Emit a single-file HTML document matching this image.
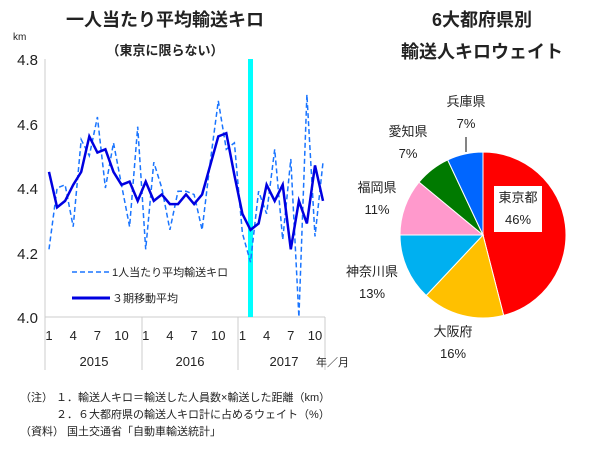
<!DOCTYPE html><html><head><meta charset="utf-8"><style>
body{margin:0;background:#fff;width:615px;height:453px;overflow:hidden}
svg text{font-family:"Liberation Sans","Noto Sans CJK JP",sans-serif;fill:#222}
</style></head><body>
<svg id="s" width="615" height="453" xmlns="http://www.w3.org/2000/svg">
<text x="165" y="26" font-size="18" font-weight="bold" text-anchor="middle">一人当たり平均輸送キロ</text>
<text x="165" y="55" font-size="13" font-weight="bold" text-anchor="middle">（東京に限らない）</text>
<text x="482" y="26" font-size="18" font-weight="bold" text-anchor="middle">6大都府県別</text>
<text x="482" y="58" font-size="18" font-weight="bold" text-anchor="middle">輸送人キロウェイト</text>
<text x="13" y="40" font-size="10">km</text>
<g font-size="15" text-anchor="end">
<text x="38" y="65">4.8</text><text x="38" y="130">4.6</text><text x="38" y="194">4.4</text><text x="38" y="259">4.2</text><text x="38" y="323">4.0</text>
</g>
<line x1="45" y1="59" x2="45" y2="370" stroke="#ccc"/>
<line x1="45" y1="317" x2="325" y2="317" stroke="#ccc"/>
<line x1="142" y1="317" x2="142" y2="370" stroke="#ccc"/>
<line x1="238" y1="317" x2="238" y2="370" stroke="#ccc"/>
<line x1="325" y1="317" x2="325" y2="370" stroke="#ccc"/>
<rect x="248" y="59" width="5" height="258" fill="#00ffff"/>
<g font-size="13" text-anchor="middle" id="xl"></g>
<g font-size="13" text-anchor="middle">
<text x="94" y="366">2015</text><text x="190" y="366">2016</text><text x="284" y="366">2017</text>
</g>
<text x="316" y="366" font-size="11">年／月</text>
<line x1="72" y1="272" x2="110" y2="272" stroke="#1a75ff" stroke-width="1.5" stroke-dasharray="5,3"/>
<text x="112" y="276" font-size="11">1人当たり平均輸送キロ</text>
<line x1="72" y1="298" x2="110" y2="298" stroke="#0000e0" stroke-width="3"/>
<text x="112" y="302" font-size="11">３期移動平均</text>
<polyline id="d" fill="none" stroke="#1a75ff" stroke-width="1.5" stroke-dasharray="5,3"/>
<polyline id="m" fill="none" stroke="#0000e0" stroke-width="2.5"/>
<g id="pie"></g>
<line x1="466" y1="137" x2="466" y2="152" stroke="#333" stroke-width="1.2"/>
<rect x="494" y="186" width="48" height="46" fill="#fff"/>
<g font-size="13" text-anchor="middle">
<text x="518" y="202">東京都</text><text x="518" y="224">46%</text>
<text x="466" y="106">兵庫県</text><text x="466" y="128">7%</text>
<text x="408" y="136">愛知県</text><text x="408" y="158">7%</text>
<text x="377" y="192">福岡県</text><text x="377" y="214">11%</text>
<text x="372" y="276">神奈川県</text><text x="372" y="298">13%</text>
<text x="453" y="336">大阪府</text><text x="453" y="358">16%</text>
</g>
<g font-size="11">
<text x="20" y="401">（注） １．輸送人キロ＝輸送した人員数×輸送した距離（km）</text>
<text x="20" y="418">　　　 ２．６大都府県の輸送人キロ計に占めるウェイト（%）</text>
<text x="20" y="435">（資料） 国土交通省「自動車輸送統計」</text>
</g>
</svg>
<script>
var d=[4.21,4.40,4.41,4.28,4.55,4.50,4.62,4.40,4.54,4.41,4.28,4.59,4.21,4.48,4.40,4.27,4.39,4.39,4.38,4.27,4.48,4.67,4.52,4.54,4.26,4.17,4.39,4.32,4.52,4.24,4.49,3.98,4.69,4.25,4.48];
var m=[4.45,4.34,4.36,4.41,4.45,4.56,4.51,4.52,4.45,4.41,4.42,4.36,4.42,4.36,4.38,4.35,4.35,4.38,4.35,4.38,4.47,4.56,4.57,4.44,4.32,4.27,4.29,4.41,4.36,4.41,4.21,4.36,4.29,4.47,4.36];
function X(i){return 49+i*8.06}function Y(v){return 317-(v-4)*322.5}
function pts(a){return a.map(function(v,i){return X(i).toFixed(1)+','+Math.min(Y(v),317).toFixed(1)}).join(' ')}
document.getElementById('d').setAttribute('points',pts(d));
document.getElementById('m').setAttribute('points',pts(m));
var xl='',lab=['1','4','7','10'];
for(var y=0;y<3;y++)for(var k=0;k<4;k++){xl+='<text x="'+X(y*12+k*3)+'" y="340">'+lab[k]+'</text>';}
document.getElementById('xl').innerHTML=xl;
var cx=483,cy=235,r=83,sl=[[46,'#ff0000'],[16,'#ffc000'],[13,'#00b0f0'],[11,'#ff99cc'],[7,'#007a00'],[7,'#0066ff']],a=0,h='';
sl.forEach(function(s){var b=a+s[0]/100*2*Math.PI;var x1=cx+r*Math.sin(a),y1=cy-r*Math.cos(a),x2=cx+r*Math.sin(b),y2=cy-r*Math.cos(b);
h+='<path d="M'+cx+','+cy+' L'+x1+','+y1+' A'+r+','+r+' 0 '+((b-a)>Math.PI?1:0)+' 1 '+x2+','+y2+' Z" fill="'+s[1]+'" stroke="#fff" stroke-width="1"/>';a=b;});
document.getElementById('pie').innerHTML=h;
</script>
</body></html>
